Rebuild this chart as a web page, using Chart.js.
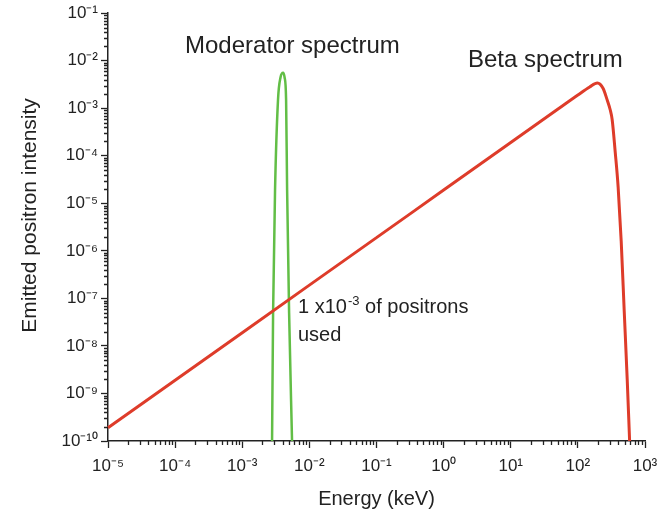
<!DOCTYPE html>
<html>
<head>
<meta charset="utf-8">
<script src="https://cdn.jsdelivr.net/npm/chart.js@4.4.0/dist/chart.umd.min.js"></script>
<style>
  html, body { margin: 0; padding: 0; background: #fff; }
</style>
</head>
<body>
<canvas id="myChart" width="659" height="517"></canvas>
<script>
// energy in keV, emitted positron intensity
var betaEnergy = [1e-5, 1e-4, 1e-3, 1e-2, 1e-1, 1, 10, 50, 100, 150, 195, 238, 273, 303, 324, 360, 398, 442, 490, 543, 590];
var betaIntensity = [1.9e-10, 1.9e-9, 1.9e-8, 1.9e-7, 1.9e-6, 1.9e-5, 1.9e-4, 9.5e-4, 1.9e-3, 2.8e-3, 3.4e-3, 2.6e-3, 1.5e-3, 9.3e-4, 5.8e-4, 1.2e-4, 2.2e-5, 1.6e-6, 5.5e-8, 2e-9, 1e-10];

var modEnergy = [2.78e-3, 2.88e-3, 3.08e-3, 3.41e-3, 3.72e-3, 4.06e-3, 4.27e-3, 4.5e-3, 4.66e-3, 4.99e-3, 5.52e-3];
var modIntensity = [1e-10, 4.9e-8, 1.9e-5, 1.5e-3, 4.5e-3, 5.6e-3, 4.5e-3, 1.5e-3, 1.9e-5, 4.9e-8, 1e-10];

// decades shown on the axes (tick labels are 10^n)
var xDecades = [-5, -4, -3, -2, -1, 0, 1, 2, 3];
var yDecades = [-10, -9, -8, -7, -6, -5, -4, -3, -2, -1];

var FONT = "'Liberation Sans', Arial, Helvetica, sans-serif";
var INK = '#222';

var supMap = { '-': '\u207B', '0': '\u2070', '1': '\u00B9', '2': '\u00B2', '3': '\u00B3', '4': '\u2074',
  '5': '\u2075', '6': '\u2076', '7': '\u2077', '8': '\u2078', '9': '\u2079' };
function powLabel(n) {
  return '10' + String(n).split('').map(function (c) { return supMap[c]; }).join('');
}

function decadeTicks(decades) {
  var t = [];
  for (var i = 0; i < decades.length; i++) {
    var p = Math.pow(10, decades[i]);
    t.push({ value: p, major: true });
    if (i < decades.length - 1) {
      for (var k = 2; k <= 9; k++) t.push({ value: k * p, major: false });
    }
  }
  return t;
}

function pts(xs, ys) {
  return xs.map(function (x, i) { return { x: x, y: ys[i] }; });
}

// minor ticks are shorter than the decade ticks
var minorTicks = {
  id: 'minorTicks',
  afterDraw: function (chart) {
    var ctx = chart.ctx;
    var xs = chart.scales.x, ys = chart.scales.y;
    ctx.save();
    ctx.strokeStyle = INK;
    ctx.lineWidth = 1.3;
    ctx.beginPath();
    xs.ticks.forEach(function (t) {
      if (t.major) return;
      var px = Math.round(xs.getPixelForValue(t.value)) + 0.5;
      ctx.moveTo(px, xs.top);
      ctx.lineTo(px, xs.top + 4);
    });
    ys.ticks.forEach(function (t) {
      if (t.major) return;
      var py = Math.round(ys.getPixelForValue(t.value)) + 0.5;
      ctx.moveTo(ys.right, py);
      ctx.lineTo(ys.right - 4, py);
    });
    ctx.stroke();
    ctx.restore();
  }
};

var notes = {
  id: 'notes',
  afterDraw: function (chart) {
    var ctx = chart.ctx;
    ctx.save();
    ctx.fillStyle = INK;
    ctx.textBaseline = 'alphabetic';
    ctx.textAlign = 'left';
    ctx.font = '24px ' + FONT;
    ctx.fillText('Moderator spectrum', 185, 53);
    ctx.fillText('Beta spectrum', 468, 67);
    ctx.font = '20px ' + FONT;
    var s = '1 x10';
    ctx.fillText(s, 298, 313);
    var w = ctx.measureText(s).width;
    ctx.font = '13px ' + FONT;
    ctx.fillText('-3', 298 + w + 1, 305);
    var w2 = ctx.measureText('-3').width;
    ctx.font = '20px ' + FONT;
    ctx.fillText(' of positrons', 298 + w + w2 + 1, 313);
    ctx.fillText('used', 298, 341);
    ctx.restore();
  }
};

window.onload = function () {
  graficos();
};

function graficos() {
  var ctx = document.getElementById('myChart');

  var myChart = new Chart(ctx, {
    type: 'line',
    data: {
      datasets: [{
        label: 'Beta spectrum',
        data: pts(betaEnergy, betaIntensity),
        borderColor: 'rgb(222, 60, 42)',
        borderWidth: 3,
        pointRadius: 0,
        cubicInterpolationMode: 'monotone',
        fill: false
      }, {
        label: 'Moderator spectrum',
        data: pts(modEnergy, modIntensity),
        borderColor: 'rgb(98, 190, 70)',
        borderWidth: 2.5,
        pointRadius: 0,
        cubicInterpolationMode: 'monotone',
        fill: false
      }]
    },
    options: {
      responsive: false,
      animation: false,
      clip: false,
      layout: { padding: { top: 13, right: 14, left: 0, bottom: 0 } },
      plugins: {
        legend: { display: false },
        tooltip: { enabled: false }
      },
      scales: {
        x: {
          type: 'logarithmic',
          min: 1e-5,
          max: 1e3,
          afterBuildTicks: function (scale) { scale.ticks = decadeTicks(xDecades); },
          afterFit: function (scale) {
            scale.height = 76;
            scale.paddingRight = 0;
            scale.paddingLeft = 0;
          },
          ticks: {
            autoSkip: false,
            maxRotation: 0,
            color: INK,
            padding: 8,
            font: { family: FONT, size: 17 },
            callback: function (v, i, ticks) {
              return ticks[i].major ? powLabel(Math.round(Math.log10(v))) : '';
            }
          },
          grid: {
            drawOnChartArea: false,
            tickLength: 7,
            tickWidth: 1.3,
            tickColor: function (c) { return c.tick && c.tick.major ? INK : 'rgba(0,0,0,0)'; }
          },
          border: { color: INK, width: 1.5 },
          title: {
            display: true,
            text: 'Energy (keV)',
            color: INK,
            font: { family: FONT, size: 20 },
            padding: { top: 8, bottom: 6 }
          }
        },
        y: {
          type: 'logarithmic',
          min: 1e-10,
          max: 1e-1,
          afterBuildTicks: function (scale) { scale.ticks = decadeTicks(yDecades); },
          afterFit: function (scale) { scale.width = 108; },
          ticks: {
            autoSkip: false,
            color: INK,
            padding: 3,
            font: { family: FONT, size: 17 },
            callback: function (v, i, ticks) {
              return ticks[i].major ? powLabel(Math.round(Math.log10(v))) : '';
            }
          },
          grid: {
            drawOnChartArea: false,
            tickLength: 7,
            tickWidth: 1.3,
            tickColor: function (c) { return c.tick && c.tick.major ? INK : 'rgba(0,0,0,0)'; }
          },
          border: { color: INK, width: 1.5 },
          title: {
            display: true,
            text: '    Emitted positron intensity',
            color: INK,
            font: { family: FONT, size: 21 },
            padding: { top: 18, bottom: 4 }
          }
        }
      }
    },
    plugins: [minorTicks, notes]
  });
}
</script>
</body>
</html>
